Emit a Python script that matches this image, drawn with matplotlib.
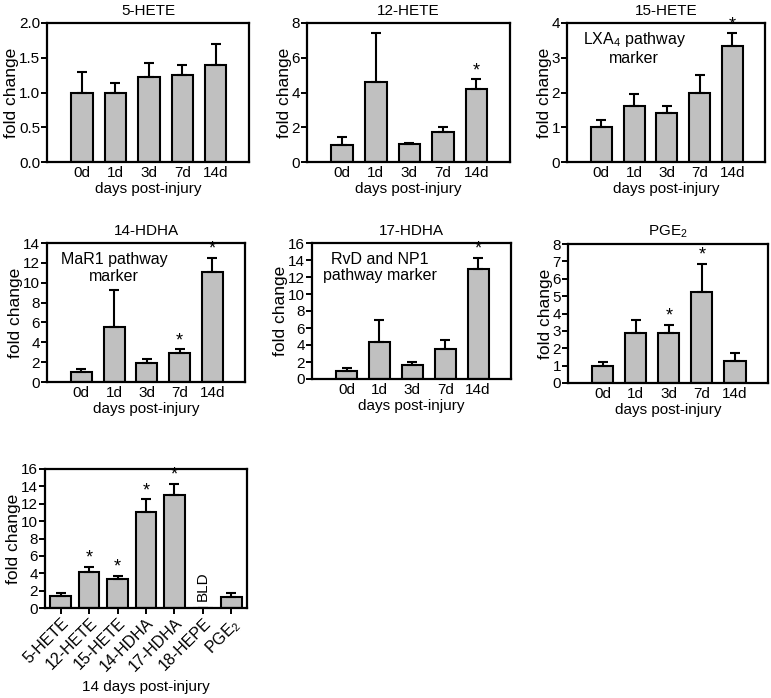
import matplotlib
matplotlib.use("Agg")
import matplotlib.pyplot as plt

plt.rcParams['font.family'] = ['Liberation Sans', 'DejaVu Sans']
plt.rcParams['mathtext.default'] = 'regular'

days = ["0d", "1d", "3d", "7d", "14d"]

hete5 = [1.00, 0.99, 1.22, 1.25, 1.39]
hete5_err = [0.30, 0.15, 0.20, 0.15, 0.31]

hete12 = [1.00, 4.60, 1.05, 1.75, 4.20]
hete12_err = [0.42, 2.85, 0.07, 0.25, 0.55]
hete12_star = [4]

hete15 = [1.00, 1.60, 1.40, 2.00, 3.35]
hete15_err = [0.20, 0.37, 0.20, 0.50, 0.35]
hete15_star = [4]

hdha14 = [1.00, 5.50, 1.90, 2.90, 11.10]
hdha14_err = [0.35, 3.80, 0.45, 0.40, 1.40]
hdha14_star = [3, 4]

hdha17 = [1.00, 4.30, 1.70, 3.50, 13.00]
hdha17_err = [0.25, 2.70, 0.25, 1.10, 1.25]
hdha17_star = [4]

pge2 = [1.00, 2.85, 2.90, 5.25, 1.25]
pge2_err = [0.20, 0.75, 0.45, 1.60, 0.45]
pge2_star = [2, 3]

mediators = ["5-HETE", "12-HETE", "15-HETE", "14-HDHA", "17-HDHA", "18-HEPE", "PGE$_2$"]
day14 = [1.39, 4.20, 3.35, 11.10, 13.00, 0.0, 1.25]
day14_err = [0.31, 0.55, 0.35, 1.40, 1.30, 0.0, 0.45]
day14_star = [1, 2, 3, 4]

W, H = 771, 698
fig = plt.figure(figsize=(W / 100, H / 100), dpi=100)


def px(l, t, r, b):
    return [l / W, 1 - b / H, (r - l) / W, (b - t) / H]


def style(ax, ymax, step, fmt="{:g}"):
    for s in ax.spines.values():
        s.set_linewidth(1.6)
    ax.set_ylim(0, ymax)
    ticks = [i * step for i in range(int(round(ymax / step)) + 1)]
    ax.set_yticks(ticks)
    ax.set_yticklabels([fmt.format(t) for t in ticks])
    ax.tick_params(axis='y', length=4, width=1.4, labelsize=11, pad=1)
    ax.tick_params(axis='x', length=0, labelsize=11, pad=3)
    ax.set_ylabel("fold change", fontsize=12.5, labelpad=0)


def bars(ax, vals, errs, stars, width=0.64):
    x = list(range(len(vals)))
    ax.bar(x, vals, width=width, color="#c0c0c0", edgecolor="black",
           linewidth=1.5, zorder=2)
    lo = [0] * len(vals)
    ax.errorbar(x, vals, yerr=[lo, errs], fmt="none", ecolor="black",
                elinewidth=1.5, capsize=3.5, capthick=1.5, zorder=3)
    for i in stars:
        ax.annotate("*", (i, vals[i] + errs[i]), xytext=(0, 0),
                    textcoords="offset points", ha="center", va="bottom",
                    fontsize=13)


def time_panel(rect, title, vals, errs, stars, ymax, step, fmt="{:g}", note=None):
    ax = fig.add_axes(px(*rect))
    bars(ax, vals, errs, stars)
    ax.set_xlim(-1.05, 5.0)
    ax.set_xticks(range(len(days)))
    ax.set_xticklabels(days)
    style(ax, ymax, step, fmt)
    ax.set_title(title, fontsize=11, pad=6)
    ax.set_xlabel("days post-injury", fontsize=11, labelpad=1)
    if note:
        ax.text(0.34, 0.82, note, transform=ax.transAxes, ha="center",
                va="center", fontsize=11.5, linespacing=1.15)
    return ax


time_panel((47, 23, 249, 162), "5-HETE", hete5, hete5_err, [], 2.0, 0.5, "{:.1f}")
time_panel((307, 23, 510, 162), "12-HETE", hete12, hete12_err, hete12_star, 8, 2)
time_panel((567, 23, 765, 162), "15-HETE", hete15, hete15_err, hete15_star, 4, 1,
           note="LXA$_4$ pathway\nmarker")
time_panel((47, 243, 245, 382), "14-HDHA", hdha14, hdha14_err, hdha14_star, 14, 2,
           note="MaR1 pathway\nmarker")
time_panel((312, 243, 511, 379), "17-HDHA", hdha17, hdha17_err, hdha17_star, 16, 2,
           note="RvD and NP1\npathway marker")
time_panel((568, 244, 768, 383), "PGE$_2$", pge2, pge2_err, pge2_star, 8, 1)

ax = fig.add_axes(px(45, 469, 247, 608))
bars(ax, day14, day14_err, day14_star, width=0.73)
ax.set_xlim(-0.55, 6.55)
ax.set_xticks(range(len(mediators)))
ax.set_xticklabels(mediators, rotation=45, ha="right", rotation_mode="anchor")
style(ax, 16, 2)
ax.tick_params(axis='x', length=4, width=1.4, labelsize=11.5, pad=1)
ax.text(5, 0.8, "BLD", rotation=90, ha="center", va="bottom", fontsize=11)
ax.set_xlabel("14 days post-injury", fontsize=11)
ax.xaxis.set_label_coords(0.5, -(680 - 608) / 139)

fig.savefig("out.png", dpi=100)
